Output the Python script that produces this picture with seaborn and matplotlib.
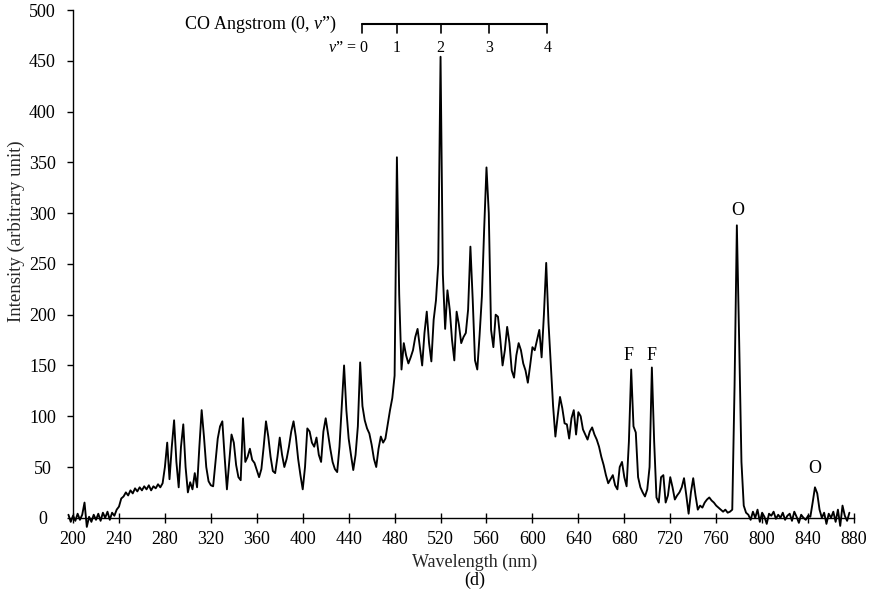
import numpy as np
import pandas as pd
import matplotlib
matplotlib.use("Agg")
import matplotlib.pyplot as plt
import seaborn as sns

# ---------------- data ----------------
wl_start, wl_end, wl_step = 196, 876, 2
intensity = [
    3, -4, 2, -3, 4, -2, 3, 15, -9, 1,            # 196-214
    -4, 3, -2, 4, -3, 5, 0, 6, -2, 5,             # 216-234
    2, 8, 11, 19, 21, 25, 22, 27, 24, 29,         # 236-254
    26, 30, 27, 31, 28, 32, 27, 31, 29, 33,       # 256-274
    30, 34, 50, 74, 38, 70, 96, 55, 30, 70,       # 276-294
    92, 50, 25, 35, 28, 44, 30, 70, 106, 80,      # 296-314
    50, 36, 32, 31, 55, 78, 90, 95, 60, 28,       # 316-334
    55, 82, 74, 52, 40, 37, 98, 55, 60, 68,       # 336-354
    57, 54, 47, 40, 48, 70, 95, 80, 60, 46,       # 356-374
    44, 60, 79, 62, 50, 58, 70, 85, 95, 80,       # 376-394
    58, 42, 28, 50, 88, 85, 74, 70, 79, 62,       # 396-414
    55, 85, 98, 83, 68, 55, 48, 45, 70, 110,      # 416-434
    150, 106, 78, 62, 47, 62, 90, 153, 110, 96,   # 436-454
    88, 83, 72, 58, 50, 68, 80, 74, 78, 92,       # 456-474
    106, 118, 140, 355, 220, 146, 172, 160, 152, 158,  # 476-494
    165, 178, 186, 168, 150, 182, 203, 172, 154, 195,  # 496-514
    214, 250, 454, 240, 186, 224, 205, 175, 155, 203,  # 516-534
    190, 172, 178, 182, 205, 267, 215, 155, 146, 180,  # 536-554
    218, 285, 345, 300, 185, 168, 200, 198, 176, 150,  # 556-574
    165, 188, 172, 145, 138, 160, 172, 165, 152, 145,  # 576-594
    133, 150, 168, 165, 175, 185, 158, 200, 251, 192,  # 596-614
    150, 110, 80, 100, 119, 108, 93, 92, 78, 98,  # 616-634
    106, 82, 104, 100, 87, 82, 77, 85, 89, 82,    # 636-654
    77, 70, 60, 52, 42, 34, 38, 42, 32, 28,       # 656-674
    50, 55, 40, 31, 75, 146, 90, 84, 40, 30,      # 676-694
    25, 21, 28, 50, 148, 75, 20, 15, 40, 42,      # 696-714
    15, 22, 40, 30, 18, 22, 25, 30, 39, 22,       # 716-734
    4, 25, 39, 22, 8, 12, 10, 15, 18, 20,         # 736-754
    17, 15, 12, 10, 8, 6, 8, 5, 6, 8,             # 756-774
    130, 288, 175, 55, 12, 5, 3, -2, 6, 0,        # 776-794
    8, -4, 5, 1, -6, 4, 2, 6, -1, 3,              # 796-814
    0, 5, -2, 2, 4, -3, 6, 1, -5, 3,              # 816-834
    0, -2, 2, 1, 15, 30, 24, 8, 0, 5,             # 836-854
    -6, 4, 0, 6, -4, 8, -8, 12, 2, -3,            # 856-874
    5,                                            # 876
]
wavelength = list(range(wl_start, wl_end + 1, wl_step))
assert len(wavelength) == len(intensity)

x_ticks = [200, 240, 280, 320, 360, 400, 440, 480, 520, 560, 600, 640, 680, 720, 760, 800, 840, 880]
y_ticks = [0, 50, 100, 150, 200, 250, 300, 350, 400, 450, 500]

band_pos = [452, 482, 520, 562, 613]
band_labels = ["1", "2", "3", "4"]
line_labels = [("F", 684, 160), ("F", 704, 160), ("O", 779, 303), ("O", 846, 49)]

# ---------------- style ----------------
sns.set_style("ticks")
plt.rcParams["font.family"] = ["Liberation Serif", "DejaVu Serif"]
plt.rcParams["mathtext.fontset"] = "custom"
plt.rcParams["mathtext.rm"] = "Liberation Serif"
plt.rcParams["mathtext.it"] = "Liberation Serif:italic"
plt.rcParams["axes.edgecolor"] = "black"
plt.rcParams["xtick.color"] = "black"
plt.rcParams["ytick.color"] = "black"
plt.rcParams["text.color"] = "black"

fig = plt.figure(figsize=(8.75, 5.9), dpi=100)
ax = fig.add_axes([0.0769, 0.0983, 0.8991, 0.8847])

df = pd.DataFrame({"Wavelength": wavelength, "Intensity": intensity})
sns.lineplot(data=df, x="Wavelength", y="Intensity", color="black", linewidth=1.35, ax=ax)

ax.set_xlim(195, 880)
ax.set_ylim(-14, 500)
ax.spines["left"].set_position(("data", 200))
ax.spines["bottom"].set_position(("data", 0))
ax.spines["left"].set_bounds(0, 500)
ax.spines["bottom"].set_bounds(200, 880)
ax.spines["top"].set_visible(False)
ax.spines["right"].set_visible(False)
for s in ("left", "bottom"):
    ax.spines[s].set_linewidth(1.0)

ax.set_xticks(x_ticks)
ax.set_yticks(y_ticks)
ax.tick_params(axis="x", direction="inout", length=7, width=1, pad=6, labelsize=13)
ax.tick_params(axis="y", direction="out", length=4, width=1, pad=18, labelsize=13)
for lab in ax.get_yticklabels():
    lab.set_horizontalalignment("center")

ax.set_xlabel("Wavelength (nm)", fontsize=13)
ax.set_ylabel("Intensity (arbitrary unit)", fontsize=13.5)
ax.xaxis.set_label_coords(0.518, -0.041)
ax.yaxis.set_label_coords(-0.054, 0.577)
fig.text(475 / 875, 1 - 580 / 590, "(d)", ha="center", va="center", fontsize=13)

# CO Angstrom band bracket
ax.plot([band_pos[0], band_pos[-1]], [486, 486], color="black", lw=1.5, clip_on=False)
for p in band_pos:
    ax.plot([p, p], [486, 477], color="black", lw=1.2, clip_on=False)
ax.text(430, 486, "CO Angstrom (0, $v$\u201d)", ha="right", va="center", fontsize=13)
ax.text(band_pos[0] + 5, 463, "$v$\u201d = 0", ha="right", va="center", fontsize=11.5)
for p, lab in zip(band_pos[1:], band_labels):
    ax.text(p, 463, lab, ha="center", va="center", fontsize=11.5)

for txt, xx, yy in line_labels:
    ax.text(xx, yy, txt, ha="center", va="center", fontsize=13)

fig.savefig("out.png", dpi=100)
